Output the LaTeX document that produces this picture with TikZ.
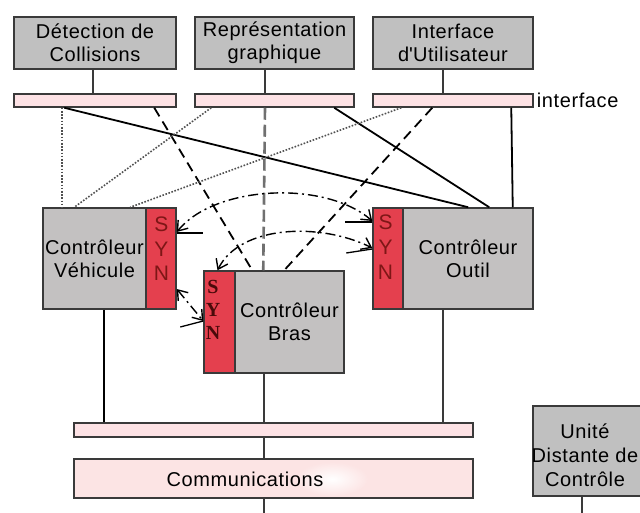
\documentclass[tikz,border=0pt]{standalone}
\usepackage{fontspec}
\setmainfont{Liberation Sans}[LetterSpace=3]
\newfontfamily\synserif{Liberation Serif}
\usetikzlibrary{arrows.meta,calc}
\definecolor{edge}{HTML}{3A3A3A}
\definecolor{boxgray}{HTML}{C0C0C0}
\definecolor{ctrlgray}{HTML}{C3C1C1}
\definecolor{synred}{HTML}{E4404E}
\definecolor{synletter}{HTML}{7E1616}
\definecolor{synbold}{HTML}{4A0A0A}
\definecolor{barpink}{HTML}{FDE2E5}
\definecolor{commpink}{HTML}{FCE4E4}
\definecolor{linkgray}{HTML}{707070}
\definecolor{dotgray}{HTML}{505050}
\begin{document}
\begin{tikzpicture}[x=1pt,y=-1pt,
  every node/.style={font=\fontsize{20}{23}\selectfont},
  module/.style={draw=edge, fill=boxgray, line width=1.5pt, inner sep=0pt, align=center},
  ctrl/.style={draw=edge, fill=ctrlgray, line width=1.5pt, inner sep=0pt, align=center},
  synstrip/.style={draw=edge, fill=synred, line width=1.5pt, inner sep=0pt},
  bar/.style={draw=edge, fill=barpink, line width=1.5pt, inner sep=0pt},
  stub/.style={draw=edge, line width=1.8pt},
  solidlink/.style={draw=black, line width=1.8pt},
  dotlink/.style={draw=dotgray, line width=1.6pt, dash pattern=on 1.6pt off 1.6pt},
  dashlink/.style={draw=black, line width=1.8pt, dash pattern=on 10pt off 6pt},
  graydash/.style={draw=linkgray, line width=2.6pt, dash pattern=on 12pt off 5pt},
  synclink/.style={draw=black, line width=1.4pt, dash pattern=on 10pt off 4pt on 2pt off 4pt},
  barb/.tip={Straight Barb[length=9pt,width=13pt]},
  tick/.style={draw=black, line width=1.3pt},
]
\useasboundingbox (0,0) rectangle (640,513);

% upper modules
\node[module, minimum width=162pt, minimum height=52pt] (det) at (95,43) {Détection de\\Collisions};
\node[module, minimum width=159pt, minimum height=52pt] (rep) at (274.5,43) {Représentation\\graphique};
\node[module, minimum width=160pt, minimum height=52pt] (ihm) at (453,43) {Interface\\d\textquotesingle Utilisateur};

% interface bars
\node[bar, minimum width=162pt, minimum height=13pt] (bar1) at (95,100.5) {};
\node[bar, minimum width=159pt, minimum height=13pt] (bar2) at (274.5,100.5) {};
\node[bar, minimum width=160pt, minimum height=13pt] (bar3) at (453,100.5) {};
\node[anchor=west, inner sep=0pt] (iflabel) at ([xshift=3pt]bar3.east) {interface};

\draw[stub] ([xshift=-2pt]det.south) -- ([xshift=-2pt]det.south |- bar1.north);
\draw[stub] ([xshift=-9.5pt]rep.south) -- ([xshift=-9.5pt]rep.south |- bar2.north);
\draw[stub] ([xshift=-10pt]ihm.south) -- ([xshift=-10pt]ihm.south |- bar3.north);

% controllers
\node[ctrl, minimum width=103pt, minimum height=101pt] (cv) at (94.5,258.5) {Contrôleur\\Véhicule};
\node[synstrip, minimum width=30pt, minimum height=101pt] (synv) at (161,258.5) {};
\node[text=synletter, align=center, inner sep=0pt, font=\fontsize{21}{24.5}\selectfont] (synvtxt) at (161.5,249) {S\\Y\\N};

\node[ctrl, minimum width=109pt, minimum height=102pt] (cb) at (289.5,322) {Contrôleur\\Bras};
\node[synstrip, minimum width=31pt, minimum height=102pt] (synb) at (219.5,322) {};
\node[text=synbold, align=center, inner sep=0pt, font=\synserif\bfseries\fontsize{20}{23}\selectfont] (synbtxt) at (213,310) {S\\Y\\N};

\node[ctrl, minimum width=130pt, minimum height=101pt] (co) at (468,258.5) {Contrôleur\\Outil};
\node[synstrip, minimum width=30pt, minimum height=101pt] (syno) at (388,258.5) {};
\node[text=synletter, align=center, inner sep=0pt, font=\fontsize{21}{25}\selectfont] (synotxt) at (385.5,247.5) {S\\Y\\N};

% links from the interface bars to the controllers
\draw[dotlink] ([xshift=49pt]bar1.south west) -- ([xshift=20pt]cv.north west);
\draw[solidlink] ([xshift=51pt]bar1.south west) -- ([xshift=96pt]syno.north west);
\draw[dashlink] ([xshift=141pt]bar1.south west) -- ([xshift=18pt]cb.north west);
\draw[dotlink] ([xshift=17pt]bar2.south west) -- ([xshift=32pt]cv.north west);
\draw[graydash] ([xshift=-9.5pt]bar2.south) -- ([xshift=29pt]cb.north west);
\draw[solidlink] ([xshift=140pt]bar2.south west) -- ([xshift=117pt]syno.north west);
\draw[dotlink] ([xshift=29pt]bar3.south west) -- ([xshift=88pt]cv.north west);
\draw[dashlink] ([xshift=60pt]bar3.south west) -- ([xshift=50pt]cb.north west);
\draw[solidlink] ([xshift=139pt]bar3.south west) -- ([xshift=-21pt]co.north east);

% synchronisation links
\draw[synclink, barb-barb] (synv.east |- 0,232) .. controls (215,185) and (325,180) .. (syno.west |- 0,221);
\draw[synclink, barb-barb] ([xshift=-2pt]synb.north) .. controls (240,225) and (320,222) .. (syno.west |- 0,248);
\draw[synclink, barb-barb] (synv.east |- 0,289) -- (synb.west |- 0,321);
\draw[tick] (synv.east |- 0,233) -- ++(26,0);
\draw[tick] (syno.west |- 0,222) -- ++(-27,0);
\draw[tick] (syno.west |- 0,249) -- ++(-26,4);
\draw[tick] (synb.west |- 0,321) -- ++(-23,6);

% system bus and communications
\node[bar, minimum width=399pt, minimum height=14pt] (bus) at (273.5,430) {};
\node[bar, fill=commpink, minimum width=399pt, minimum height=39pt] (comm) at (273.5,478.5) {};
\shade[inner color=white, outer color=commpink] (332,479) ellipse (36 and 17);
\node[inner sep=0pt] (commtxt) at (245,479) {Communications};

\draw[draw=black, line width=2.6pt] ([xshift=9.5pt]cv.south) -- ([xshift=9.5pt]cv.south |- bus.north);
\draw[stub] ([xshift=-25.5pt]cb.south) -- ([xshift=-25.5pt]cb.south |- bus.north);
\draw[stub] ([xshift=-25pt]co.south) -- ([xshift=-25pt]co.south |- bus.north);
\draw[stub] ([xshift=-9.5pt]bus.south) -- ([xshift=-9.5pt]bus.south |- comm.north);
\coordinate (commdown) at (264,513);
\draw[stub] ([xshift=-9.5pt]comm.south) -- (commdown);

% remote control unit
\node[module, minimum width=117pt, minimum height=90pt] (udc) at (591.5,451) {};
\node[align=center, inner sep=0pt, font=\fontsize{20}{24}\selectfont] (udctxt) at (585,455) {Unité\\Distante de\\Contrôle};
\coordinate (udcdown) at (582,513);
\draw[stub] (udc.south -| udcdown) -- (udcdown);
\end{tikzpicture}
\end{document}
